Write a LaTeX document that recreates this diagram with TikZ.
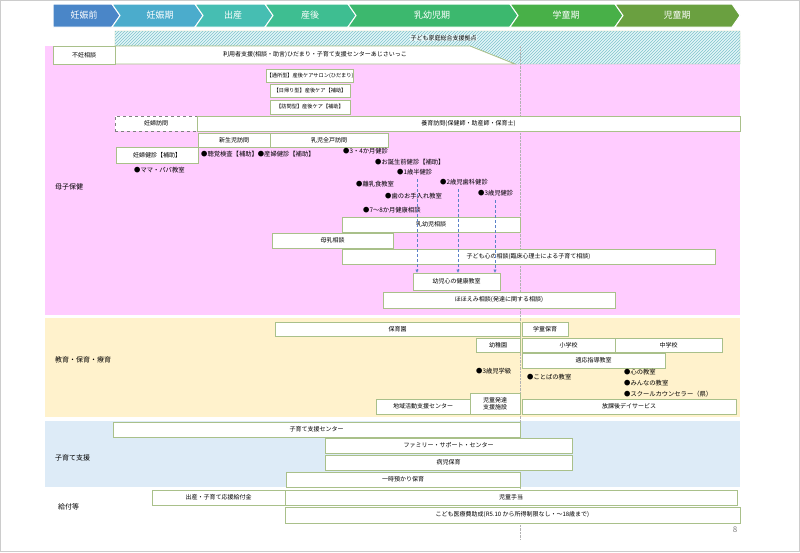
\documentclass[tikz,border=0pt]{standalone}
\usepackage{fontspec}
\setmainfont{Noto Sans CJK JP}
\usetikzlibrary{patterns,arrows.meta}
\definecolor{boxline}{HTML}{A9C08A}
\definecolor{pinkbg}{HTML}{FFCCFF}
\definecolor{yellowbg}{HTML}{FFF2CC}
\definecolor{bluebg}{HTML}{DDEBF7}
\definecolor{hatchbg}{HTML}{E4F6F8}
\definecolor{hatchline}{HTML}{7FC4CC}
\tikzset{
  svc/.style={draw=boxline, line width=0.8pt, fill=white, inner sep=0pt, font=\fontsize{6}{6.5}\selectfont, align=center},
  tiny/.style={font=\fontsize{5.2}{6}\selectfont},
  dot/.style={anchor=west, inner sep=0pt, font=\fontsize{6.3}{7}\selectfont},
  area/.style={anchor=west, inner sep=0pt, font=\fontsize{7}{8}\selectfont},
  phase/.style={draw=white, line width=1pt},
  phasetext/.style={text=white, font=\fontsize{9}{10}\selectfont},
  flow/.style={densely dashed, draw={rgb,255:red,90;green,130;blue,200}, -{Triangle[length=3pt,width=3pt]}}
}
% box from (x1,y1) to (x2,y2), pixel coordinates
\newcommand{\svcbox}[6][]{%
  \node[svc,#1,minimum width={(#4-#2)*1pt},minimum height={(#5-#3)*1pt}] (#6) at ({(#2+#4)/2},{(#3+#5)/2})}
\begin{document}
\begin{tikzpicture}[x=1pt,y=-1pt]
		\useasboundingbox (0,0) rectangle (800,552);
		\draw[gray!40] (0.5,0.5) rectangle (799.5,551.5);
		
		% phase arrows
		\filldraw[phase,fill={rgb,255:red,74;green,134;blue,200}] (53,4) -- (112,4) -- (120,15.5) -- (112,27) -- (53,27) -- cycle;
		\filldraw[phase,fill={rgb,255:red,75;green,172;blue,204}] (112,4) -- (195,4) -- (203,15.5) -- (195,27) -- (112,27) -- (120,15.5) -- cycle;
		\filldraw[phase,fill={rgb,255:red,70;green,190;blue,178}] (195,4) -- (265,4) -- (273,15.5) -- (265,27) -- (195,27) -- (203,15.5) -- cycle;
		\filldraw[phase,fill={rgb,255:red,62;green,190;blue,145}] (265,4) -- (348,4) -- (356,15.5) -- (348,27) -- (265,27) -- (273,15.5) -- cycle;
		\filldraw[phase,fill={rgb,255:red,60;green,184;blue,110}] (348,4) -- (510,4) -- (518,15.5) -- (510,27) -- (348,27) -- (356,15.5) -- cycle;
		\filldraw[phase,fill={rgb,255:red,72;green,176;blue,72}] (510,4) -- (615,4) -- (623,15.5) -- (615,27) -- (510,27) -- (518,15.5) -- cycle;
		\filldraw[phase,fill={rgb,255:red,106;green,160;blue,64}] (615,4) -- (732,4) -- (740,15.5) -- (732,27) -- (615,27) -- (623,15.5) -- cycle;
		\node[phasetext] at (84,15.5) {妊娠前};
		\node[phasetext] at (160,15.5) {妊娠期};
		\node[phasetext] at (233,15.5) {出産};
		\node[phasetext] at (310,15.5) {産後};
		\node[phasetext] at (432,15.5) {乳幼児期};
		\node[phasetext] at (566,15.5) {学童期};
		\node[phasetext] at (677,15.5) {児童期};
		
		% background areas
		\fill[pinkbg] (45,46) rectangle (740,315);
		\fill[yellowbg] (45,318) rectangle (740,417);
		\fill[bluebg] (45,421) rectangle (740,487);
		
		% hatched band
		\filldraw[draw=boxline,fill=hatchbg] (115,31) -- (740,31) -- (740,64) -- (515,64) -- (470,46) -- (115,46) -- cycle;
		\fill[pattern=north east lines,pattern color=hatchline] (115,31) -- (740,31) -- (740,64) -- (515,64) -- (470,46) -- (115,46) -- cycle;
		\node[dot,fill=hatchbg,inner sep=0.5pt] at (410,38) {\fontsize{6}{6.5}\selectfont 子ども家庭総合支援拠点};
		\filldraw[draw=boxline,fill=white,line width=0.8pt] (115,46) -- (470,46) -- (515,64) -- (115,64) -- cycle;
		\node[font=\fontsize{6}{6.5}\selectfont] (riyo) at (315,55) {利用者支援(相談・助言)ひだまり・子育て支援センターあじさいっこ};
		
		% time line
		\draw[densely dotted,gray!60] (520,46) -- (520,540);
		
		% maternal and child health
		\node[area] at (55,187) {母子保健};
		\svcbox{53}{46}{115}{64}{funin} {不妊相談};
		\svcbox[tiny]{270}{69}{350}{82}{salon} {【通所型】産後ケアサロン(ひだまり)};
		\svcbox[tiny]{270}{84}{350}{97}{higaeri} {【日帰り型】産後ケア【補助】};
		\svcbox[tiny]{270}{100}{350}{114}{homon} {【訪問型】産後ケア【補助】};
		\svcbox[dashed,draw=gray]{115}{116}{197}{131}{ninpu} {妊婦訪問};
		\svcbox{197}{116}{740}{131}{yoiku} {養育訪問(保健師・助産師・保育士)};
		\svcbox{198}{133}{270}{147}{shinsei} {新生児訪問};
		\svcbox{270}{133}{388}{147}{zenko} {乳児全戸訪問};
		\svcbox{116}{147}{198}{163}{kenshin} {妊婦健診【補助】};
		\node[dot] (mama) at (134,170) {●ママ・パパ教室};
		\node[dot] (choukaku) at (201,154) {●聴覚検査【補助】●産婦健診【補助】};
		\node[dot] (k34) at (343,151) {●3・4か月健診};
		\node[dot] (tanjo) at (375,162) {●お誕生前健診【補助】};
		\node[dot] (k18) at (397,172) {●1歳半健診};
		\node[dot] (rinyu) at (356,184) {●離乳食教室};
		\node[dot] (shika) at (440,182) {●2歳児歯科健診};
		\node[dot] (teire) at (385,196) {●歯のお手入れ教室};
		\node[dot] (k3) at (478,193) {●3歳児健診};
		\node[dot] (k78) at (363,210) {●7～8か月健康相談};
		\svcbox{342}{217}{520}{232}{nyuyoji} {乳幼児相談};
		\svcbox{272}{233}{393}{248}{bonyu} {母乳相談};
		\svcbox{342}{249}{715}{264}{kokoro} {子ども心の相談(臨床心理士による子育て相談)};
		\svcbox{413}{273}{500}{290}{yoji} {幼児心の健康教室};
		\svcbox{383}{292}{615}{308}{hohoemi} {ほほえみ相談(発達に関する相談)};
		\coordinate (a1) at (417,179);
		\coordinate (a2) at (458,189);
		\coordinate (a3) at (495,200);
		\draw[flow] (a1) -- (a1 |- yoji.north);
		\draw[flow] (a2) -- (a2 |- yoji.north);
		\draw[flow] (a3) -- (a3 |- yoji.north);
		
		% education and care
		\node[area] at (55,360) {教育・保育・療育};
		\svcbox{275}{322}{520}{336}{hoiku} {保育園};
		\svcbox{522}{322}{568}{336}{gakudo} {学童保育};
		\svcbox{476}{338}{520}{352}{yochien} {幼稚園};
		\svcbox{522}{338}{615}{352}{sho} {小学校};
		\svcbox{615}{338}{722}{352}{chu} {中学校};
		\svcbox{522}{353}{665}{368}{tekio} {適応指導教室};
		\node[dot] (gakkyu) at (476,371) {●3歳児学級};
		\node[dot] (kotoba) at (527,377) {●ことばの教室};
		\node[dot] (kokoro2) at (624,372) {●心の教室};
		\node[dot] (minna) at (624,383) {●みんなの教室};
		\node[dot] (sc) at (624,394) {●スクールカウンセラー（県）};
		\svcbox{376}{399}{470}{414}{chiiki} {地域活動支援センター};
		\svcbox{470}{393}{520}{414}{hattatsu} {児童発達\\支援施設};
		\svcbox{522}{399}{736}{414}{hokago} {放課後デイサービス};
		
		% child-rearing support
		\node[area] at (55,458) {子育て支援};
		\svcbox{113}{422}{520}{437}{center} {子育て支援センター};
		\svcbox{325}{438}{572}{453}{family} {ファミリー・サポート・センター};
		\svcbox{325}{455}{572}{470}{byoji} {病児保育};
		\svcbox{286}{472}{520}{487}{ichiji} {一時預かり保育};
		
		% benefits
		\node[area] at (58,507) {給付等};
		\svcbox{152}{490}{285}{505}{ouen} {出産・子育て応援給付金};
		\svcbox{285}{490}{737}{505}{teate} {児童手当};
		\svcbox{285}{507}{740}{523}{iryo} {こども医療費助成(R5.10 から所得制限なし・～18歳まで)};
		\node[text=gray,font=\fontsize{8}{9}\selectfont] (page) at (735,530) {8};
	\end{tikzpicture}
\end{document}
